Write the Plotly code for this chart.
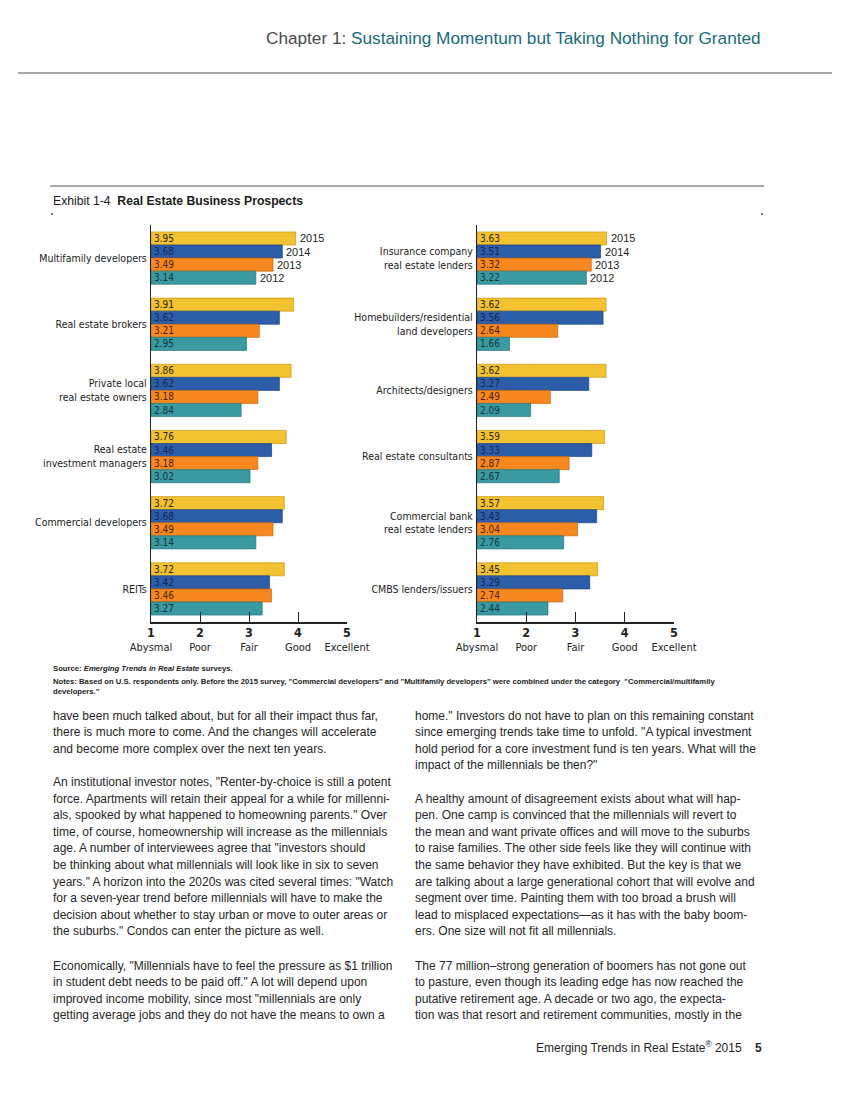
import plotly.graph_objects as go

W, H = 850, 1100

# ---------------- data ----------------
years = ["2015", "2014", "2013", "2012"]
bar_colors = ["#F2C230", "#2C5DA9", "#F6881F", "#3A9AA2"]
edge_colors = ["#C89A12", "#1D4582", "#C9650B", "#27757A"]
text_colors = ["#2e2600", "#12284f", "#4d1f00", "#123639"]

left_cats = ["Multifamily developers", "Real estate brokers",
             "Private local<br>real estate owners",
             "Real estate<br>investment managers",
             "Commercial developers", "REITs"]
left_2015 = [3.95, 3.91, 3.86, 3.76, 3.72, 3.72]
left_2014 = [3.68, 3.62, 3.62, 3.46, 3.68, 3.42]
left_2013 = [3.49, 3.21, 3.18, 3.18, 3.49, 3.46]
left_2012 = [3.14, 2.95, 2.84, 3.02, 3.14, 3.27]

right_cats = ["Insurance company<br>real estate lenders",
              "Homebuilders/residential<br>land developers",
              "Architects/designers", "Real estate consultants",
              "Commercial bank<br>real estate lenders",
              "CMBS lenders/issuers"]
right_2015 = [3.63, 3.62, 3.62, 3.59, 3.57, 3.45]
right_2014 = [3.51, 3.56, 3.27, 3.33, 3.43, 3.29]
right_2013 = [3.32, 2.64, 2.49, 2.87, 3.04, 2.74]
right_2012 = [3.22, 1.66, 2.09, 2.67, 2.76, 2.44]

scale_vals = [1, 2, 3, 4, 5]
scale_names = ["Abysmal", "Poor", "Fair", "Good", "Excellent"]
SCALE_BASE = 1

left_col = [
    "have been much talked about, but for all their impact thus far,",
    "there is much more to come. And the changes will accelerate",
    "and become more complex over the next ten years.",
    None,
    "An institutional investor notes, \"Renter-by-choice is still a potent",
    "force. Apartments will retain their appeal for a while for millenni-",
    "als, spooked by what happened to homeowning parents.\" Over",
    "time, of course, homeownership will increase as the millennials",
    "age. A number of interviewees agree that \"investors should",
    "be thinking about what millennials will look like in six to seven",
    "years.\" A horizon into the 2020s was cited several times: \"Watch",
    "for a seven-year trend before millennials will have to make the",
    "decision about whether to stay urban or move to outer areas or",
    "the suburbs.\" Condos can enter the picture as well.",
    None,
    "Economically, \"Millennials have to feel the pressure as $1 trillion",
    "in student debt needs to be paid off.\" A lot will depend upon",
    "improved income mobility, since most \"millennials are only",
    "getting average jobs and they do not have the means to own a",
]
right_col = [
    "home.\" Investors do not have to plan on this remaining constant",
    "since emerging trends take time to unfold. \"A typical investment",
    "hold period for a core investment fund is ten years. What will the",
    "impact of the millennials be then?\"",
    None,
    "A healthy amount of disagreement exists about what will hap-",
    "pen. One camp is convinced that the millennials will revert to",
    "the mean and want private offices and will move to the suburbs",
    "to raise families. The other side feels like they will continue with",
    "the same behavior they have exhibited. But the key is that we",
    "are talking about a large generational cohort that will evolve and",
    "segment over time. Painting them with too broad a brush will",
    "lead to misplaced expectations\u2014as it has with the baby boom-",
    "ers. One size will not fit all millennials.",
    None,
    "The 77 million\u2013strong generation of boomers has not gone out",
    "to pasture, even though its leading edge has now reached the",
    "putative retirement age. A decade or two ago, the expecta-",
    "tion was that resort and retirement communities, mostly in the",
]

# ---------------- helpers ----------------
def PX(x):
    return x / W


def PY(y):
    return 1 - y / H


NARROW = "DejaVu Sans Condensed, Liberation Sans Narrow, Arial Narrow, sans-serif"
SANS = "Liberation Sans, Arial, Helvetica, sans-serif"

fig = go.Figure()

panels = [
    ("x", "y", left_cats, [left_2015, left_2014, left_2013, left_2012]),
    ("x2", "y2", right_cats, [right_2015, right_2014, right_2013, right_2012]),
]

for xa, ya, cats, series in panels:
    for i, vals in enumerate(series):
        fig.add_trace(go.Bar(
            orientation="h",
            y=cats,
            x=[v - SCALE_BASE for v in vals],
            base=SCALE_BASE,
            name=years[i],
            marker=dict(color=bar_colors[i],
                        line=dict(color=edge_colors[i], width=0.7)),
            text=[f"{v:.2f}" for v in vals],
            textposition="inside",
            insidetextanchor="start",
            constraintext="none",
            textfont=dict(family=NARROW, size=10, color=text_colors[i]),
            xaxis=xa, yaxis=ya,
            showlegend=False,
            hovertemplate="%{y}: %{text}<extra>" + years[i] + "</extra>",
        ))
    # year labels on the first group
    slot = (622 - 225) / 6
    bar_h = slot * (1 - 0.21) / 4
    for i, vals in enumerate(series):
        fig.add_annotation(
            x=vals[0], y=cats[0], xref=xa, yref=ya,
            text=years[i], showarrow=False, xanchor="left", yanchor="middle",
            xshift=2, yshift=-(i - 1.5) * bar_h,
            font=dict(family=SANS, size=11, color="#1e1e1e"),
        )

ticktext = [f"<span style='font-size:12.5px'><b>{v}</b></span><br>{n}"
            for v, n in zip(scale_vals, scale_names)]

xcommon = dict(range=[1, 5], tickvals=scale_vals, ticktext=ticktext,
               ticks="inside", ticklen=10, tickwidth=1.3, tickcolor="#222",
               showline=True, linecolor="#222", linewidth=1.5,
               showgrid=False, zeroline=False, automargin=False,
               tickfont=dict(family=NARROW, size=11, color="#222"),
               fixedrange=True)
ycommon = dict(autorange="reversed", type="category", showline=True,
               linecolor="#222", linewidth=1.3, ticks="", showgrid=False,
               zeroline=False, automargin=False, ticklabelstandoff=1,
               tickfont=dict(family=NARROW, size=10.5, color="#222"),
               domain=[PY(622), PY(225)], fixedrange=True)

fig.update_layout(
    width=W, height=H, autosize=False,
    margin=dict(l=0, r=0, t=0, b=0),
    paper_bgcolor="white", plot_bgcolor="rgba(0,0,0,0)",
    barmode="group", bargap=0.21, bargroupgap=0,
    showlegend=False,
    xaxis=dict(domain=[PX(151), PX(347)], anchor="y", **xcommon),
    yaxis=dict(anchor="x", **ycommon),
    xaxis2=dict(domain=[PX(477), PX(674)], anchor="y2", **xcommon),
    yaxis2=dict(anchor="x2", **ycommon),
)

# ---------------- page decorations ----------------
shapes = [
    dict(type="line", xref="paper", yref="paper", x0=PX(18), x1=PX(832),
         y0=PY(73), y1=PY(73), line=dict(color="#8a8a8a", width=1.6)),
    dict(type="line", xref="paper", yref="paper", x0=PX(50), x1=PX(764),
         y0=PY(186), y1=PY(186), line=dict(color="#555555", width=1.1)),
    dict(type="circle", xref="paper", yref="paper", x0=PX(51), x1=PX(53),
         y0=PY(215), y1=PY(213), line=dict(width=0), fillcolor="#444"),
    dict(type="circle", xref="paper", yref="paper", x0=PX(761), x1=PX(763),
         y0=PY(215), y1=PY(213), line=dict(width=0), fillcolor="#444"),
]
fig.update_layout(shapes=shapes)

ann = []
ann.append(dict(
    x=PX(763), y=PY(38), xref="paper", yref="paper", xanchor="right",
    yanchor="middle", showarrow=False,
    text="<span style='color:#4a4a4a'>Chapter 1:</span> Sustaining Momentum but Taking Nothing for Granted",
    font=dict(family=SANS, size=17.2, color="#176a80"),
))
ann.append(dict(
    x=PX(51), y=PY(201), xref="paper", yref="paper", xanchor="left",
    yanchor="middle", showarrow=False,
    text="Exhibit 1-4  <b>Real Estate Business Prospects</b>",
    font=dict(family=SANS, size=12.2, color="#1a1a1a"),
))
notes = [
    (668, "<b>Source: <i>Emerging Trends in Real Estate</i> surveys.</b>"),
    (681, "<b>Notes: Based on U.S. respondents only. Before the 2015 survey, \"Commercial developers\" and \"Multifamily developers\" were combined under the category  \"Commercial/multifamily</b>"),
    (691, "<b>developers.\"</b>"),
]
for y, t in notes:
    ann.append(dict(x=PX(51), y=PY(y), xref="paper", yref="paper",
                    xanchor="left", yanchor="middle", showarrow=False,
                    text=t, font=dict(family=SANS, size=7.7, color="#222")))

LINE0 = 715.5
STEP = 16.6
for colx, lines, starts in ((51, left_col, [LINE0, 782, 965.5]),
                             (413, right_col, [LINE0, 798.5, 965.5])):
    para = 0
    k = 0
    for line in lines:
        if line is None:
            para += 1
            k = 0
            continue
        y = starts[para] + k * STEP
        k += 1
        ann.append(dict(x=PX(colx), y=PY(y), xref="paper", yref="paper",
                        xanchor="left", yanchor="middle", showarrow=False,
                        text=line, font=dict(family=SANS, size=12, color="#262626")))

ann.append(dict(
    x=PX(764), y=PY(1047), xref="paper", yref="paper", xanchor="right",
    yanchor="middle", showarrow=False,
    text="Emerging Trends in Real Estate<sup>\u00ae</sup> 2015    <b>5</b>",
    font=dict(family=SANS, size=12, color="#262626"),
))

for a in ann:
    fig.add_annotation(**a)

fig.write_html("out.html",
               config={"displayModeBar": False},
               post_script="document.body.style.margin='0px';document.body.style.padding='0px';")
